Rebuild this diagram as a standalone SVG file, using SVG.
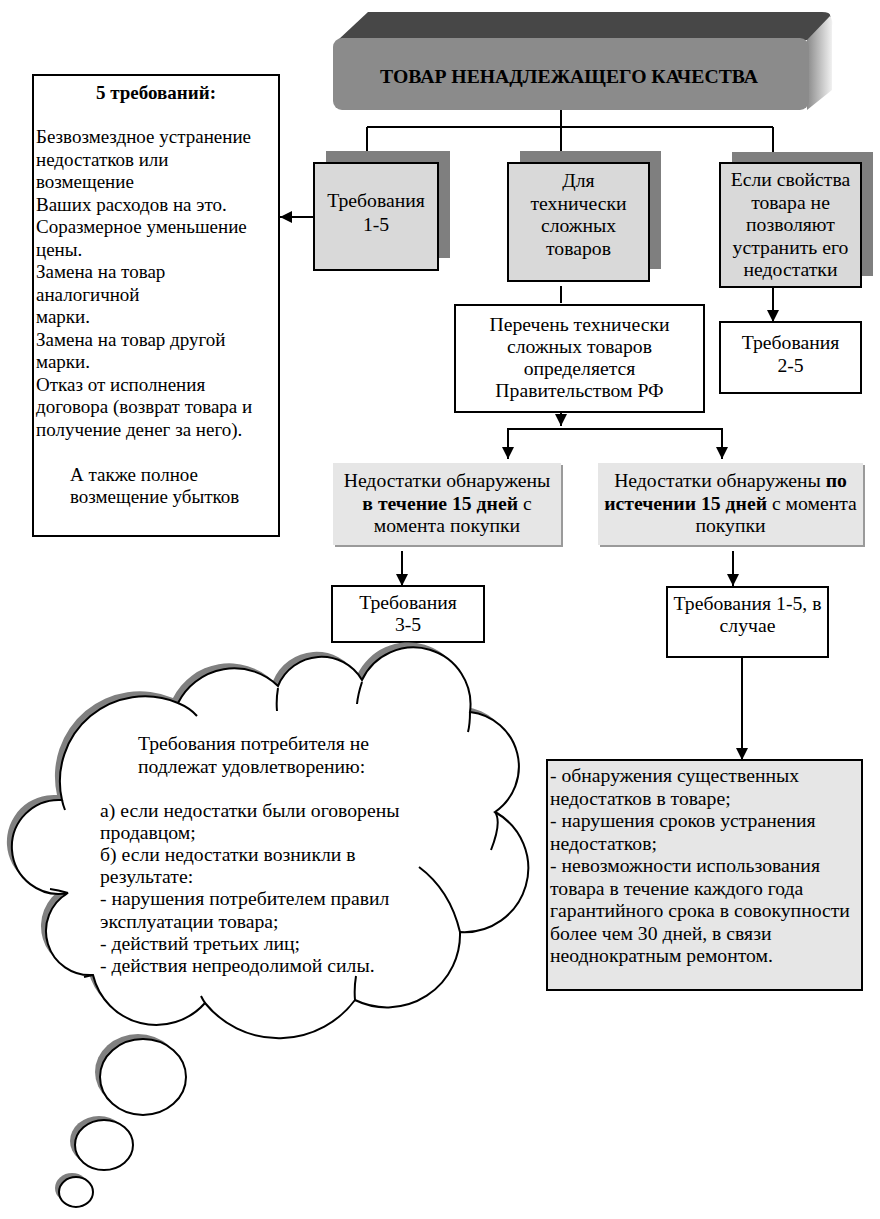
<svg xmlns="http://www.w3.org/2000/svg" width="880" height="1219" viewBox="0 0 880 1219">
<defs>
<style>
text{font-family:"Liberation Serif","Times New Roman",serif;font-size:19.7px;fill:#000}
.s19{font-size:19px}
.c{text-anchor:middle}
.b{font-weight:bold}
.box{stroke:#000;stroke-width:2}
.w{fill:#fff}
.g{fill:#d9d9d9}
.sh{fill:#7f7f7f}
.lg{fill:#e6e6e6}
.ln{stroke:#000;stroke-width:2;fill:none}
.cl{fill:#fff;stroke:#000;stroke-width:2}
.cs{fill:#808080}
.tl{fill:none;stroke:#000;stroke-width:2}
</style>
<linearGradient id="side" x1="0" y1="0" x2="1" y2="0">
<stop offset="0" stop-color="#8a8a8a"/>
<stop offset="1" stop-color="#f2f2f2"/>
</linearGradient>
<marker id="ah" markerUnits="userSpaceOnUse" markerWidth="12" markerHeight="12" viewBox="0 0 12 12" refX="12" refY="6" orient="auto">
<path d="M0,0 L12,6 L0,12 Z" fill="#000"/>
</marker>
</defs>

<g id="header">
<path d="M338,40 L368,12 L822,12 Q832,12 830,18 L808,40 Z" fill="#474747"/>
<path d="M807,40 L830,16 Q833,20 832,26 L832,90 L807,110 Z" fill="url(#side)"/>
<rect x="333" y="38" width="476" height="72" rx="9" fill="#8b8b8b"/>
<text class="c b" x="569" y="83">ТОВАР НЕНАДЛЕЖАЩЕГО КАЧЕСТВА</text>
</g>

<g id="connectors">
<path class="ln" d="M561,110 V127 M367,127 H773 M367,127 V163 M561,127 V163 M773,127 V163"/>
<path class="ln" d="M314,217 H280" marker-end="url(#ah)"/>
<path class="ln" d="M773,287 V322" marker-end="url(#ah)"/>
<path class="ln" d="M561,286 V303"/>
<path class="ln" d="M561,412 V426" marker-end="url(#ah)"/>
<path class="ln" d="M508,429 H722"/>
<path class="ln" d="M508,428 V459" marker-end="url(#ah)"/>
<path class="ln" d="M722,428 V459" marker-end="url(#ah)"/>
<path class="ln" d="M402,551 V586" marker-end="url(#ah)"/>
<path class="ln" d="M733,551 V586" marker-end="url(#ah)"/>
<path class="ln" d="M742,657 V760" marker-end="url(#ah)"/>
</g>

<g id="left-box">
<rect class="box w" x="33" y="75" width="246" height="461"/>
<text class="c b s19" x="156" y="99">5 требований:</text>
<text class="s19" x="36" y="143">Безвозмездное устранение<tspan x="36" dy="22.5">недостатков или</tspan><tspan x="36" dy="22.5">возмещение</tspan><tspan x="36" dy="22.5">Ваших расходов на это.</tspan><tspan x="36" dy="22.5">Соразмерное уменьшение</tspan><tspan x="36" dy="22.5">цены.</tspan><tspan x="36" dy="22.5">Замена на товар</tspan><tspan x="36" dy="22.5">аналогичной</tspan><tspan x="36" dy="22.5">марки.</tspan><tspan x="36" dy="22.5">Замена на товар другой</tspan><tspan x="36" dy="22.5">марки.</tspan><tspan x="36" dy="22.5">Отказ от исполнения</tspan><tspan x="36" dy="22.5">договора (возврат товара и</tspan><tspan x="36" dy="22.5">получение денег за него).</tspan><tspan x="70" dy="45">А также полное</tspan><tspan x="70" dy="22.5">возмещение убытков</tspan></text>
</g>

<g id="req-1-5">
<rect class="sh" x="326" y="151" width="124" height="107"/>
<rect class="box g" x="314" y="163" width="124" height="107"/>
<text class="c" x="376" y="207">Требования<tspan x="376" dy="23.5">1-5</tspan></text>
</g>

<g id="complex-goods">
<rect class="sh" x="520" y="151" width="141" height="118"/>
<rect class="box g" x="508" y="163" width="141" height="118"/>
<text class="c" x="578.5" y="187">Для<tspan x="578.5" dy="22.5">технически</tspan><tspan x="578.5" dy="22.5">сложных</tspan><tspan x="578.5" dy="22.5">товаров</tspan></text>
</g>

<g id="properties">
<rect class="sh" x="732" y="152" width="141" height="124"/>
<rect class="box g" x="720" y="163" width="141" height="124"/>
<text class="c" x="790.5" y="186">Если свойства<tspan x="790.5" dy="22.5">товара не</tspan><tspan x="790.5" dy="22.5">позволяют</tspan><tspan x="790.5" dy="22.5">устранить его</tspan><tspan x="790.5" dy="22.5">недостатки</tspan></text>
</g>

<g id="req-2-5">
<rect class="box w" x="720" y="322" width="141" height="71"/>
<text class="c" x="790.5" y="349">Требования<tspan x="790.5" dy="22.5">2-5</tspan></text>
</g>

<g id="list">
<rect class="box w" x="455" y="305" width="249" height="107"/>
<text class="c" x="579.5" y="331">Перечень технически<tspan x="579.5" dy="22">сложных товаров</tspan><tspan x="579.5" dy="22">определяется</tspan><tspan x="579.5" dy="22">Правительством РФ</tspan></text>
</g>

<g id="within-15">
<rect fill="#9a9a9a" x="335" y="465" width="228" height="82"/>
<rect class="lg" x="333" y="463" width="228" height="82"/>
<text class="c" x="447" y="487">Недостатки обнаружены</text>
<text class="c" x="447" y="509.5"><tspan class="b">в течение 15 дней</tspan> с</text>
<text class="c" x="447" y="532">момента покупки</text>
</g>

<g id="after-15">
<rect fill="#9a9a9a" x="600" y="465" width="265" height="82"/>
<rect class="lg" x="598" y="463" width="265" height="82"/>
<text class="c" x="730.5" y="487">Недостатки обнаружены <tspan class="b">по</tspan></text>
<text class="c" x="730.5" y="509.5"><tspan class="b">истечении 15 дней</tspan> с момента</text>
<text class="c" x="730.5" y="532">покупки</text>
</g>

<g id="req-3-5">
<rect class="box w" x="332" y="586" width="152" height="56"/>
<text class="c" x="408" y="609">Требования<tspan x="408" dy="22">3-5</tspan></text>
</g>

<g id="req-1-5-case">
<rect class="box w" x="667" y="587" width="161" height="70"/>
<text class="c" x="747.5" y="610">Требования 1-5, в<tspan x="747.5" dy="22">случае</tspan></text>
</g>

<g id="cases">
<rect class="box lg" x="547" y="760" width="315" height="230"/>
<text x="550" y="782">- обнаружения существенных<tspan x="550" dy="22.5">недостатков в товаре;</tspan><tspan x="550" dy="22.5">- нарушения сроков устранения</tspan><tspan x="550" dy="22.5">недостатков;</tspan><tspan x="550" dy="22.5">- невозможности использования</tspan><tspan x="550" dy="22.5">товара в течение каждого года</tspan><tspan x="550" dy="22.5">гарантийного срока в совокупности</tspan><tspan x="550" dy="22.5">более чем 30 дней, в связи</tspan><tspan x="550" dy="22.5">неоднократным ремонтом.</tspan></text>
</g>

<g id="cloud">
<path class="cs" transform="translate(-5,-5)" d="M62,800 A85,85 0 0 1 178,703 A63,63 0 0 1 278,686 A47,47 0 0 1 362,680 A57,57 0 0 1 470,712 A55,55 0 0 1 495,812 A64,64 0 0 1 460,932 A73,73 0 0 1 355,1000 A95,95 0 0 1 205,1003 A65,65 0 0 1 93,975 A44,44 0 0 1 68,893 A47,47 0 1 1 62,800 Z"/>
<path class="cl" d="M62,800 A85,85 0 0 1 178,703 A63,63 0 0 1 278,686 A47,47 0 0 1 362,680 A57,57 0 0 1 470,712 A55,55 0 0 1 495,812 A64,64 0 0 1 460,932 A73,73 0 0 1 355,1000 A95,95 0 0 1 205,1003 A65,65 0 0 1 93,975 A44,44 0 0 1 68,893 A47,47 0 1 1 62,800 Z"/>
<path class="tl" d="M178,703 Q190,708 197,716 M278,688 Q276,700 277,711 M362,682 Q358,694 357,704 M470,712 Q470,724 468,732 M495,812 Q502,822 491,850 M460,932 Q450,890 419,867 M355,1000 Q354,988 356,976 M205,1003 Q203,1000 201,996 M93,975 Q88,976 84,977 M68,893 Q58,890 50,889 M62,800 Q63,805 65,810"/>
<ellipse class="cs" cx="138" cy="1072" rx="43" ry="38"/>
<ellipse class="cl" cx="143" cy="1077" rx="43" ry="38"/>
<ellipse class="cs" cx="99" cy="1141" rx="29" ry="25"/>
<ellipse class="cl" cx="104" cy="1145" rx="29" ry="25"/>
<ellipse class="cs" cx="72" cy="1188" rx="17" ry="15"/>
<ellipse class="cl" cx="76" cy="1192" rx="17" ry="15"/>
<text x="138" y="750">Требования потребителя не<tspan x="138" dy="22.5">подлежат удовлетворению:</tspan><tspan x="100" dy="44">а) если недостатки были оговорены</tspan><tspan x="100" dy="22.2">продавцом;</tspan><tspan x="100" dy="22.2">б) если недостатки возникли в</tspan><tspan x="100" dy="22.2">результате:</tspan><tspan x="100" dy="22.2">- нарушения потребителем правил</tspan><tspan x="100" dy="22.2">эксплуатации товара;</tspan><tspan x="100" dy="22.2">- действий третьих лиц;</tspan><tspan x="100" dy="22.2">- действия непреодолимой силы.</tspan></text>
</g>
</svg>
